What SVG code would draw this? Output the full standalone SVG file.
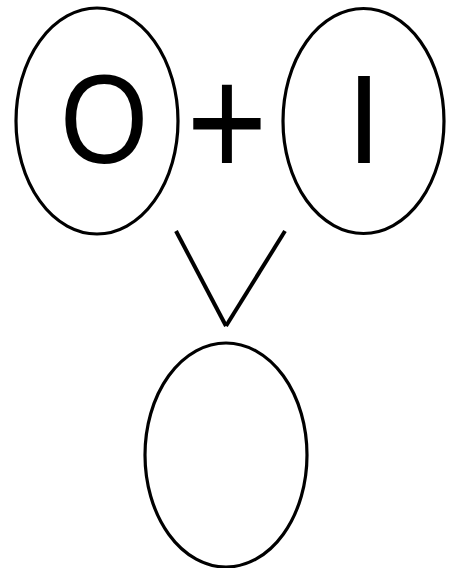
<svg xmlns="http://www.w3.org/2000/svg" width="454" height="568" viewBox="0 0 454 568">
<style>
.node ellipse{fill:none;stroke:#000;stroke-width:3.2}
.lbl{font-family:"Liberation Sans",Arial,sans-serif;fill:#000;text-anchor:middle}
.conn line{stroke:#000;stroke-width:4;stroke-linecap:butt}
</style>
<rect width="454" height="568" fill="#fff"/>
<g id="node-O" class="node">
<ellipse cx="97" cy="121" rx="81" ry="113"/>
<text class="lbl" x="104" y="163" font-size="126" transform="translate(104 163) scale(0.9 1) translate(-104 -163)">O</text>
</g>
<g id="node-I" class="node">
<ellipse cx="363.5" cy="121" rx="80.5" ry="112.5"/>
<text class="lbl" x="364" y="163" font-size="126">I</text>
</g>
<g id="plus">
<text class="lbl" x="227" y="162" font-size="126" transform="translate(227 162) scale(1.1 1.26) translate(-227 -162)" dy="12">+</text>
</g>
<g id="node-result" class="node">
<ellipse cx="226" cy="455" rx="81" ry="112"/>
</g>
<g id="connectors" class="conn">
<line x1="176" y1="231" x2="226" y2="326"/>
<line x1="285" y1="231" x2="226" y2="326"/>
</g>
</svg>
